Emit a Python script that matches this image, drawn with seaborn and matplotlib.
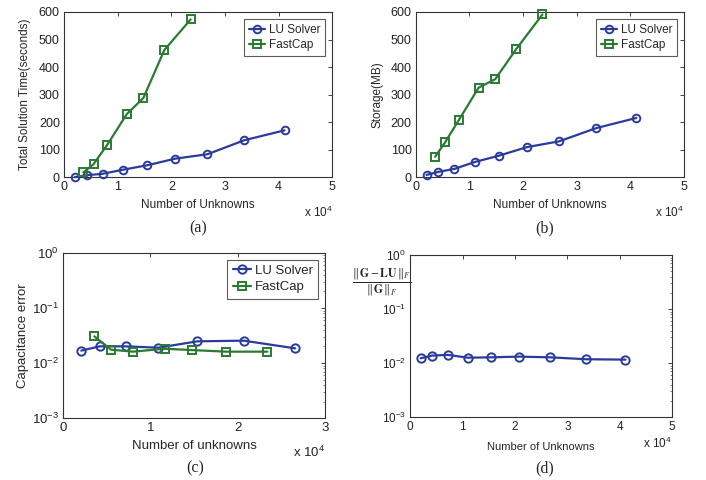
import matplotlib
matplotlib.use("Agg")
import matplotlib.pyplot as plt
import matplotlib.ticker as mticker
import seaborn as sns
import numpy as np

# ---- data (x in units of 1e4 unknowns) ----
lu_n = [0.20, 0.42, 0.72, 1.10, 1.55, 2.07, 2.67, 3.36, 4.11]
fc_n = [0.36, 0.55, 0.80, 1.17, 1.48, 1.87, 2.36]

lu_time = [0, 7, 12, 27, 43, 67, 83, 134, 170]
fc_time = [17, 47, 116, 229, 288, 462, 573]

lu_storage = [8, 19, 30, 55, 78, 109, 130, 178, 215]
fc_storage = [74, 128, 207, 325, 356, 465, 591]

lu_n_c = [0.21, 0.42, 0.72, 1.09, 1.54, 2.07, 2.66]
lu_caperr = [0.0168, 0.0201, 0.0201, 0.0190, 0.0248, 0.0255, 0.0185]
fc_n_c = [0.36, 0.55, 0.80, 1.17, 1.475, 1.87, 2.34]
fc_caperr = [0.0305, 0.0175, 0.0161, 0.0182, 0.0172, 0.0161, 0.0161]

lu_factor_err = [0.0123, 0.0138, 0.0142, 0.0126, 0.0128, 0.0132, 0.0128, 0.0118, 0.0116]

series_names = ["LU Solver", "FastCap"]
captions = ["(a)", "(b)", "(c)", "(d)"]

BLUE = "#2b3b9c"
GREEN = "#2b7a34"

sns.set_theme(style="white")
plt.rcParams["font.family"] = ["Liberation Sans", "DejaVu Sans"]
plt.rcParams["mathtext.fontset"] = "custom"
plt.rcParams["mathtext.rm"] = "Liberation Sans"
plt.rcParams["xtick.direction"] = "in"
plt.rcParams["ytick.direction"] = "in"

fig = plt.figure(figsize=(7.06, 4.80), dpi=100)
fs = 8.5
fst = 9

axA = fig.add_axes([0.0907, 0.631, 0.380, 0.344])
axB = fig.add_axes([0.589, 0.631, 0.380, 0.344])
axC = fig.add_axes([0.0892, 0.129, 0.371, 0.344])
axD = fig.add_axes([0.581, 0.131, 0.371, 0.3375])

def draw(ax, x, y, color, marker, label, ms=5.5):
    sns.lineplot(x=x, y=y, ax=ax, color=color, marker=marker, markersize=ms,
                 markerfacecolor="none", markeredgecolor=color, markeredgewidth=1.4,
                 linewidth=1.6, label=label, sort=False, clip_on=False, zorder=3)

def style(ax, fsz=fst):
    for s in ax.spines.values():
        s.set_visible(True)
        s.set_color("#333333")
        s.set_linewidth(0.8)
    ax.tick_params(axis="both", which="both", direction="in", top=True, right=True,
                   labelsize=fsz, colors="#222222", length=3, width=0.6)
    ax.tick_params(axis="both", which="major", pad=3)

def legend(ax, fsz=fs, pad=0.6):
    leg = ax.legend(loc="upper right", fontsize=fsz, frameon=True, fancybox=False,
                    edgecolor="#333333", handlelength=1.4, handletextpad=0.3,
                    borderpad=0.4, labelspacing=0.3, borderaxespad=pad)
    leg.get_frame().set_linewidth(0.8)
    leg.set_zorder(5)

# (a)
draw(axA, lu_n, lu_time, BLUE, "o", series_names[0])
draw(axA, fc_n, fc_time, GREEN, "s", series_names[1])
axA.set_xlim(0, 5); axA.set_ylim(0, 600)
axA.set_yticks([0, 100, 200, 300, 400, 500, 600])
axA.set_ylabel("Total Solution Time(seconds)", fontsize=fs, labelpad=6)
axA.set_xlabel("Number of Unknowns", fontsize=fs, labelpad=4)
style(axA); legend(axA)

# (b)
draw(axB, lu_n, lu_storage, BLUE, "o", series_names[0])
draw(axB, fc_n, fc_storage, GREEN, "s", series_names[1])
axB.set_xlim(0, 5); axB.set_ylim(0, 600)
axB.set_yticks([0, 100, 200, 300, 400, 500, 600])
axB.set_ylabel("Storage(MB)", fontsize=fs, labelpad=5)
axB.set_xlabel("Number of Unknowns", fontsize=fs, labelpad=4)
style(axB); legend(axB)

# (c)
fsc = 9.5
draw(axC, lu_n_c, lu_caperr, BLUE, "o", series_names[0], ms=6)
draw(axC, fc_n_c, fc_caperr, GREEN, "s", series_names[1], ms=6)
axC.set_yscale("log")
axC.set_xlim(0, 3); axC.set_ylim(1e-3, 1)
axC.set_xticks([0, 1, 2, 3])
axC.yaxis.set_major_locator(mticker.LogLocator(base=10, numticks=10))
axC.yaxis.set_minor_locator(mticker.LogLocator(base=10, subs=np.arange(2, 10), numticks=20))
axC.yaxis.set_minor_formatter(mticker.NullFormatter())
axC.set_ylabel("Capacitance error", fontsize=fsc, labelpad=2)
axC.set_xlabel("Number of unknowns", fontsize=fsc, labelpad=4)
style(axC, fsc)
axC.tick_params(axis="y", which="minor", length=1.5, width=0.4)
legend(axC, fsc, pad=0.5)

# (d)
draw(axD, lu_n, lu_factor_err, BLUE, "o", None, ms=6)
axD.set_yscale("log")
axD.set_xlim(0, 5); axD.set_ylim(1e-3, 1)
axD.yaxis.set_major_locator(mticker.LogLocator(base=10, numticks=10))
axD.yaxis.set_minor_locator(mticker.LogLocator(base=10, subs=np.arange(2, 10), numticks=20))
axD.yaxis.set_minor_formatter(mticker.NullFormatter())
axD.set_ylabel("")
axD.set_xlabel("Number of Unknowns", fontsize=fs - 0.5, labelpad=6)
style(axD, fs)
axD.tick_params(axis="y", which="minor", length=1.5, width=0.4)
if axD.get_legend() is not None:
    axD.get_legend().remove()
axD.text(-0.11, 0.83,
         r"$\frac{\|\,\mathbf{G}-\mathbf{LU}\,\|_F}{\|\,\mathbf{G}\,\|_F}$",
         transform=axD.transAxes, ha="center", va="center", fontsize=12,
         family=["DejaVu Serif"], math_fontfamily="stix")

# x10^4 multipliers
for ax, yoff, fsz in [(axA, -0.215, fs), (axB, -0.215, fs), (axC, -0.21, fsc), (axD, -0.16, fs)]:
    ax.text(1.0, yoff, r"x 10$^4$", transform=ax.transAxes, ha="right", va="center",
            fontsize=fsz, color="#222222")

# captions
cap_pos = [(198, 228), (545, 228), (195, 468), (545, 468)]
for cap, (px, py) in zip(captions, cap_pos):
    fig.text(px / 706, 1 - py / 480, cap, ha="center", va="center", fontsize=11.5,
             family=["Liberation Serif", "DejaVu Serif"])

fig.savefig("out.png", dpi=100)
